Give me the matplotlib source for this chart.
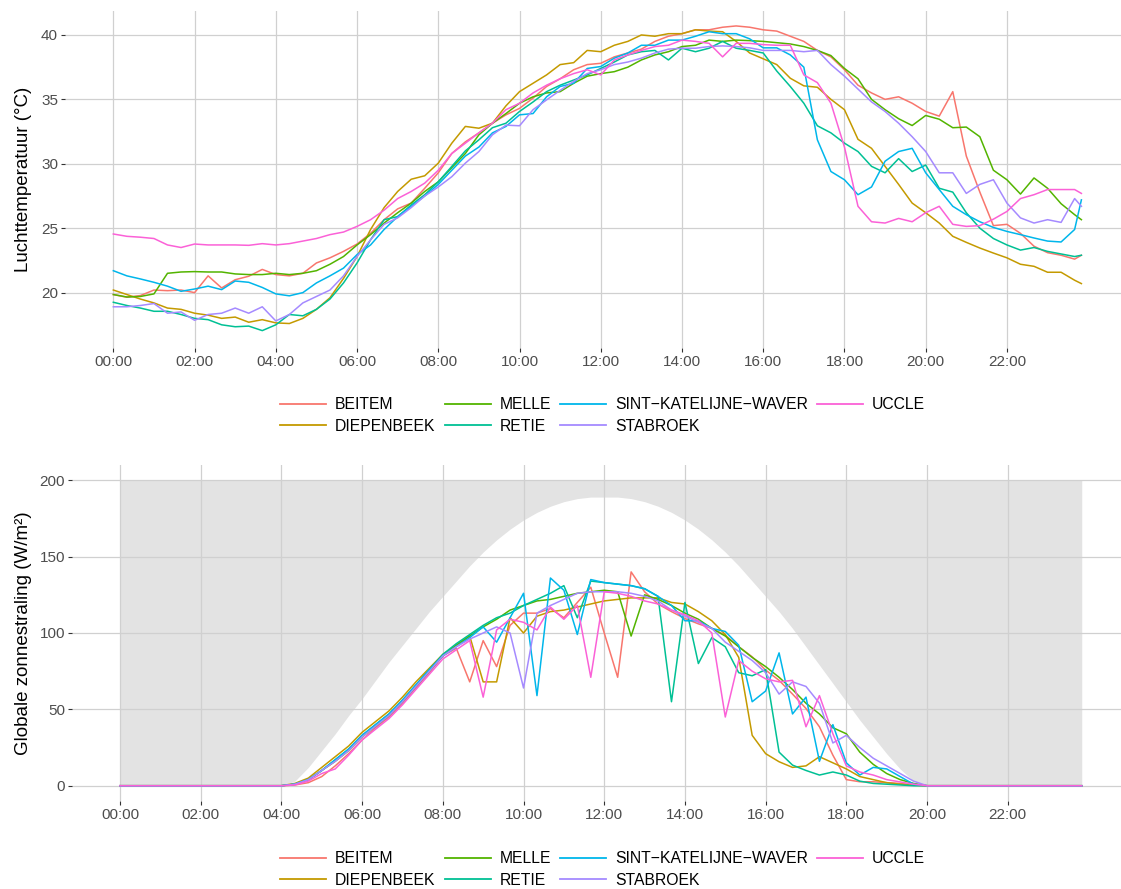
import numpy as np
import matplotlib
matplotlib.use('Agg')
import matplotlib.pyplot as plt
from matplotlib.lines import Line2D

plt.rcParams['font.family'] = ['Liberation Sans', 'DejaVu Sans']

# time of day, 20-minute readings, last one at 23:50
minutes = list(range(0, 1440, 20)) + [1430]
hours = np.array(minutes) / 60

stations = ['BEITEM', 'DIEPENBEEK', 'MELLE', 'RETIE',
            'SINT\u2212KATELIJNE\u2212WAVER', 'STABROEK', 'UCCLE']
colors = ['#F8766D', '#C49A00', '#53B400', '#00C094', '#00B6EB', '#A58AFF', '#FB61D7']

# air temperature (°C)
temp_beitem = [19.85, 19.64, 19.77, 20.2, 20.15, 20.2, 20.0, 21.3, 20.36, 21.0, 21.27, 21.8, 21.4, 21.3, 21.5,
               22.3, 22.7, 23.2, 23.77, 24.6, 25.66,
               26.5, 26.95, 28.1, 29.3, 30.8, 31.7, 32.4, 33.15, 33.8, 34.3, 35.1, 36.0, 36.6, 37.3, 37.7,
               37.8, 38.3, 38.6, 38.9, 39.5, 39.9, 40.1, 40.4, 40.4, 40.6, 40.7, 40.6, 40.4, 40.3,
               39.9, 39.5, 38.8, 38.3, 37.3, 36.1, 35.5, 35.0, 35.2, 34.7, 34.06, 33.7, 35.6, 30.6, 27.8,
               25.2, 25.3, 24.6, 23.6, 23.1, 22.9, 22.6, 22.9]
temp_diepenbeek = [20.2, 19.85, 19.5, 19.2, 18.8, 18.7, 18.4, 18.25, 18.0, 18.1, 17.7, 17.9, 17.65, 17.6, 18.0,
                   18.7, 19.6, 21.1, 22.8, 24.9, 26.6,
                   27.85, 28.8, 29.07, 30.05, 31.6, 32.9, 32.76, 33.15, 34.5, 35.6, 36.25, 36.9, 37.7, 37.85,
                   38.8, 38.7, 39.2, 39.5, 40.0, 39.9, 40.1, 40.1, 40.4, 40.3, 40.25, 39.5, 38.6, 38.15, 37.7,
                   36.64, 36.05, 35.94, 35.0, 34.2, 31.9, 31.2, 29.8, 28.4, 26.95, 26.2, 25.4, 24.37, 23.9,
                   23.46, 23.07, 22.7, 22.2, 22.04, 21.58, 21.58, 20.96, 20.7]
temp_melle = [19.85, 19.66, 19.7, 19.9, 21.5, 21.6, 21.63, 21.6, 21.6, 21.45, 21.4, 21.4, 21.5, 21.4, 21.5,
              21.7, 22.2, 22.8, 23.7, 24.5, 25.4,
              26.2, 26.95, 27.85, 28.6, 29.7, 30.8, 32.25, 33.15, 33.9, 34.7, 35.2, 35.5, 35.6, 36.25, 36.8,
              37.0, 37.15, 37.5, 38.06, 38.45, 38.7, 39.1, 39.2, 39.6, 39.5, 39.6, 39.56, 39.5, 39.4,
              39.3, 39.1, 38.8, 38.4, 37.4, 36.6, 35.0, 34.2, 33.5, 32.97, 33.75, 33.46, 32.8, 32.85, 32.1,
              29.5, 28.76, 27.65, 28.9, 28.1, 26.9, 26.05, 25.66]
temp_retie = [19.25, 19.0, 18.8, 18.55, 18.55, 18.3, 18.0, 17.9, 17.5, 17.35, 17.4, 17.05, 17.5, 18.3, 18.2,
              18.7, 19.5, 20.75, 22.3, 24.1, 25.66,
              25.9, 26.8, 27.6, 28.6, 29.8, 31.0, 31.86, 32.8, 33.15, 34.06, 34.8, 35.6, 36.1, 36.5, 36.9,
              37.4, 37.9, 38.45, 38.7, 38.8, 38.06, 38.97, 38.7, 38.97, 39.5, 38.97, 38.8, 38.6, 37.2,
              36.0, 34.7, 32.95, 32.4, 31.6, 30.95, 29.8, 29.3, 30.4, 29.4, 29.9, 28.1, 27.8, 26.2, 25.0,
              24.2, 23.7, 23.3, 23.5, 23.2, 23.0, 22.8, 22.9]
temp_skw = [21.7, 21.3, 21.06, 20.8, 20.5, 20.1, 20.28, 20.5, 20.23, 20.9, 20.8, 20.4, 19.9, 19.75, 20.0,
            20.75, 21.3, 21.9, 22.95, 23.7, 24.9,
            25.9, 26.7, 27.5, 28.4, 29.5, 30.6, 31.3, 32.4, 32.9, 33.8, 33.9, 35.2, 36.0, 36.25, 37.4,
            37.55, 38.2, 38.6, 39.2, 39.2, 39.6, 39.6, 39.9, 40.25, 40.1, 40.1, 39.7, 39.0, 39.0,
            38.45, 37.5, 31.86, 29.4, 28.76, 27.6, 28.2, 30.2, 30.95, 31.2, 29.3, 28.0, 26.7, 26.05, 25.5,
            25.06, 24.75, 24.5, 24.24, 24.0, 23.93, 24.9, 27.2]
temp_stabroek = [18.9, 18.9, 19.0, 19.15, 18.4, 18.5, 17.85, 18.3, 18.4, 18.8, 18.4, 18.9, 17.8, 18.3, 19.2,
                 19.7, 20.2, 21.3, 22.8, 24.1, 25.3,
                 25.8, 26.6, 27.5, 28.2, 29.0, 30.05, 30.95, 32.25, 33.0, 32.95, 34.2, 34.96, 35.7, 36.4,
                 37.0, 37.3, 37.7, 37.9, 38.2, 38.6, 38.9, 38.97, 38.97, 39.1, 39.15, 39.1, 39.0, 38.8, 38.8,
                 38.8, 38.7, 38.8, 37.7, 36.8, 35.8, 34.8, 34.06, 33.15, 32.1, 30.95, 29.3, 29.3, 27.7,
                 28.4, 28.76, 26.95, 25.8, 25.4, 25.66, 25.45, 27.3, 26.7]
temp_uccle = [24.55, 24.37, 24.3, 24.2, 23.7, 23.5, 23.77, 23.7, 23.7, 23.7, 23.67, 23.8, 23.7, 23.8, 24.0,
              24.2, 24.5, 24.7, 25.14, 25.66, 26.4,
              27.3, 27.85, 28.5, 29.5, 30.8, 31.6, 32.4, 33.15, 34.2, 34.7, 35.5, 36.1, 36.6, 37.0, 37.3,
              36.9, 38.06, 38.45, 38.8, 39.1, 39.2, 39.6, 39.5, 39.35, 38.3, 39.35, 39.35, 39.25, 39.2,
              39.2, 36.9, 36.3, 34.7, 31.3, 26.7, 25.5, 25.4, 25.76, 25.5, 26.2, 26.7, 25.3, 25.14, 25.2,
              25.7, 26.3, 27.3, 27.6, 28.0, 28.0, 28.0, 27.7]

# global radiation (W/m²), zero before 04:00 and after 20:00
rad_beitem = [0] * 12 + [0, 0.5, 2, 6, 13, 21, 30, 38, 45, 54, 64, 74,
                         85, 90, 68, 95, 78, 105, 113, 113, 116, 110, 120, 130, 100, 71, 140, 127, 119, 114,
                         109.5, 106, 103, 98.6, 91, 84.4, 75.7, 69, 60, 50.6, 38.6, 20, 4, 2.6, 2.6, 2, 1.5,
                         0.5, 0] + [0] * 12
rad_diepenbeek = [0] * 12 + [0, 1.5, 5, 12, 19, 26, 35, 42, 49, 58, 68, 77,
                             86, 92, 98, 68, 68, 110, 100, 111, 114, 115, 117, 119, 121, 122, 123, 123, 123,
                             120, 119, 114, 108, 99, 84, 33, 21, 15.7, 12, 13, 19, 15, 11, 6, 4, 2, 1, 0.3,
                             0] + [0] * 12
rad_melle = [0] * 12 + [0, 1, 4, 10, 16, 23, 32, 39, 46, 55, 65, 75,
                        85, 92, 98, 104, 109, 115, 118, 121, 122, 124, 126, 127, 128, 127, 98, 125, 122, 118,
                        113, 109, 103, 98, 91, 84, 78, 71, 63, 54, 47, 38, 34, 22, 14, 8, 4, 1.5, 0] + [0] * 12
rad_retie = [0] * 12 + [0, 1, 4, 10, 17, 24, 33, 40, 47, 56, 66, 76,
                        86, 93, 99, 105, 110, 113, 118, 122, 126, 131, 110, 134, 133, 132, 131, 129, 124, 55,
                        120, 80, 97, 91, 74, 72, 76, 22, 13.5, 10, 7, 9, 7, 3, 1.5, 1, 0.5, 0, 0] + [0] * 12
rad_skw = [0] * 12 + [0, 1, 4, 10, 17, 24, 33, 40, 47, 56, 66, 76,
                      85, 91, 97, 104, 94, 110, 126, 59, 136, 128, 99, 135, 133, 132, 131, 129, 124, 118,
                      108, 108, 103, 101, 92, 55, 62, 87, 47, 58, 16, 40, 15, 7, 12, 11, 6, 1, 0] + [0] * 12
rad_stabroek = [0] * 12 + [0, 1, 4, 10, 16, 23, 32, 39, 46, 55, 65, 75,
                           85, 91, 96, 100, 104, 100, 64, 113, 118, 122, 126, 127, 127, 127, 126, 124, 121,
                           115, 111, 107, 103, 94, 88, 82, 74, 60, 68, 65, 54, 28, 33, 25, 18, 13, 8, 3,
                           0] + [0] * 12
rad_uccle = [0] * 12 + [0, 0.5, 3, 8, 11, 20, 30, 37, 44, 53, 63, 73,
                        83, 89, 95, 58, 102, 109, 107, 102, 117, 109, 118, 71, 127, 126, 124, 121, 119, 115,
                        112, 108, 100, 45, 82, 75, 70, 68, 69, 38.6, 59, 34, 13, 9, 7, 4, 2.5, 1, 0] + [0] * 12

# clear-sky radiation envelope
clear_sky = [0] * 12 + [0, 3, 12, 23, 34, 46, 57, 69, 81, 92, 103, 114, 124, 134, 144, 153, 161, 168, 174,
                        179, 183, 186, 188, 189, 189,
                        189, 188, 186, 183, 179, 174, 168, 161, 153, 144, 134, 124, 114, 103, 91, 79, 67,
                        55, 43, 32, 21, 11, 3, 0] + [0] * 12
sky_top = 200

temps = [temp_beitem, temp_diepenbeek, temp_melle, temp_retie, temp_skw, temp_stabroek, temp_uccle]
rads = [rad_beitem, rad_diepenbeek, rad_melle, rad_retie, rad_skw, rad_stabroek, rad_uccle]

W, H = 1121, 889
fig = plt.figure(figsize=(W / 100, H / 100), dpi=100)
ax1 = fig.add_axes([65 / W, 1 - 348 / H, (1130 - 65) / W, 337 / H])
ax2 = fig.add_axes([72 / W, 1 - 801 / H, (1130 - 72) / W, 336 / H])


def style(ax):
    for s in ax.spines.values():
        s.set_visible(False)
    ax.grid(True, color='#D0D0D0', lw=0.9)
    ax.set_axisbelow(True)
    ax.tick_params(colors='#333333', labelcolor='#4D4D4D', labelsize=11, length=2.6, width=0.8, pad=2.4)
    ax.set_xticks(range(0, 24, 2))
    ax.set_xticklabels([f'{h:02d}:00' for h in range(0, 24, 2)])
    ax.set_xlim(-1.19, 25.03)


# top: temperature
style(ax1)
for name, col, vals in zip(stations, colors, temps):
    ax1.plot(hours, vals, color=col, lw=1.1, zorder=2)
ax1.set_ylim(15.7, 41.86)
ax1.set_yticks([20, 25, 30, 35, 40])
ax1.set_ylabel('Luchttemperatuur (°C)', fontsize=13.5, color='black')
ax1.yaxis.set_label_coords((32 - 65) / 1065, 0.5)

# bottom: radiation
style(ax2)
ax2.fill_between(hours, clear_sky, sky_top, color='#E3E3E3', lw=0, zorder=0.3)
for name, col, vals in zip(stations, colors, rads):
    ax2.plot(hours, vals, color=col, lw=1.1, zorder=2)
ax2.set_ylim(-10, 210)
ax2.set_yticks([0, 50, 100, 150, 200])
ax2.set_ylabel('Globale zonnestraling (W/m²)', fontsize=13.5, color='black')
ax2.yaxis.set_label_coords((32 - 72) / 1058, 0.5)

handles = [Line2D([], [], color=c, lw=1.3) for c in colors]
for yc in [1 - 415.4 / H, 1 - 869.4 / H]:
    fig.legend(handles, stations, loc='center', bbox_to_anchor=(602.5 / W, yc), ncol=4, frameon=False,
               fontsize=11.3, handlelength=2.93, handletextpad=0.57, columnspacing=0.58, labelspacing=0.42,
               borderpad=0)

fig.savefig('out.png', dpi=100)
